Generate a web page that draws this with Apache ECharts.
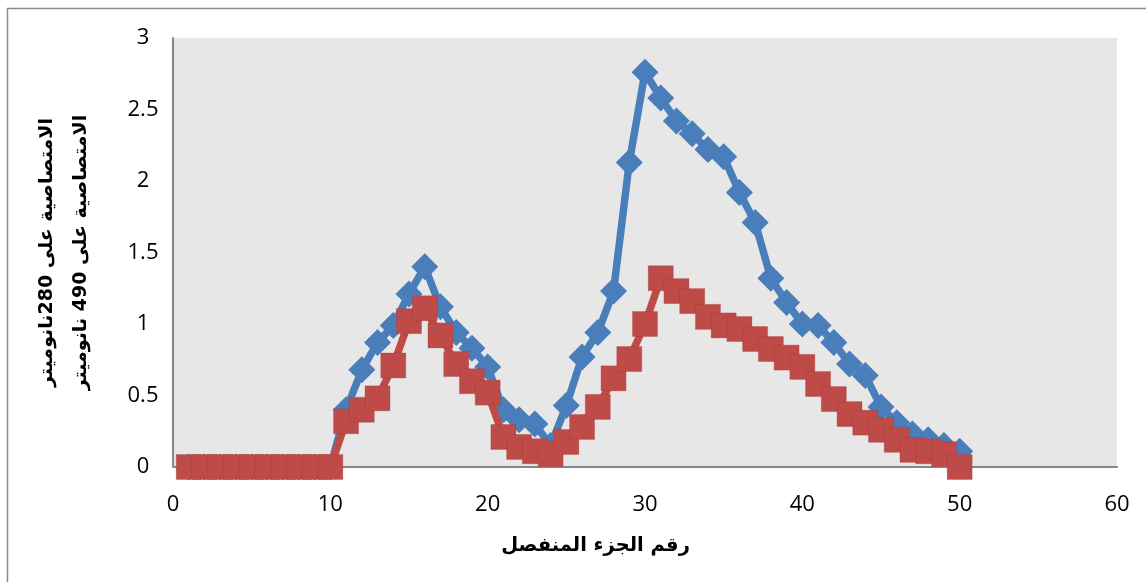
<!DOCTYPE html>
<html>
<head>
<meta charset="utf-8">
<script src="https://cdn.jsdelivr.net/npm/echarts@6/dist/echarts.min.js"></script>
<style>
html,body{margin:0;padding:0;background:#fff;}
#chart{width:1146px;height:582px;}
</style>
</head>
<body>
<div id="chart"></div>
<script>
// fraction numbers (x)
const fractions = [1,2,3,4,5,6,7,8,9,10,11,12,13,14,15,16,17,18,19,20,21,22,23,24,25,26,27,28,29,30,31,32,33,34,35,36,37,38,39,40,41,42,43,44,45,46,47,48,49,50];
// absorbance at 280 nm
const abs280 = [0,0,0,0,0,0,0,0,0,0,0.40,0.68,0.87,0.99,1.21,1.40,1.12,0.94,0.83,0.70,0.40,0.33,0.30,0.15,0.43,0.77,0.94,1.23,2.13,2.76,2.58,2.42,2.33,2.22,2.17,1.92,1.71,1.32,1.15,1.00,0.99,0.87,0.72,0.64,0.42,0.31,0.23,0.19,0.15,0.11];
// absorbance at 490 nm
const abs490 = [0,0,0,0,0,0,0,0,0,0,0.32,0.40,0.48,0.71,1.02,1.11,0.92,0.72,0.60,0.52,0.21,0.14,0.11,0.09,0.175,0.28,0.42,0.62,0.755,1.00,1.32,1.23,1.16,1.05,0.99,0.965,0.895,0.825,0.765,0.70,0.58,0.475,0.37,0.31,0.26,0.19,0.12,0.11,0.09,0.00];
const xTitle = 'رقم الجزء المنفصل';
const yTitle = ['الامتصاصية على 280نانوميتر', 'الامتصاصية على 490 نانوميتر'];

const chart = echarts.init(document.getElementById('chart'));
const labelFont = {color:'#000', fontSize:22, fontFamily:'Open Sans'};
chart.setOption({
  animation:false,
  backgroundColor:'#fff',
  graphic:[{
    type:'rect', z:-10, silent:true,
    shape:{x:7.5, y:8.5, width:1300, height:800},
    style:{fill:'#fff', stroke:'#8a8a8a', lineWidth:1.5}
  }],
  grid:{left:173, top:38, right:29, bottom:115, show:true, backgroundColor:'#e7e7e7', borderWidth:0},
  xAxis:{
    type:'value', min:0, max:60, interval:10,
    axisLine:{show:true, onZero:false, lineStyle:{color:'#878787', width:2}},
    axisTick:{show:false},
    splitLine:{show:false},
    axisLabel:Object.assign({margin:27}, labelFont),
    name:xTitle, nameLocation:'middle', nameGap:69,
    nameTextStyle:{fontSize:19.5, fontWeight:'bold', fontFamily:'DejaVu Sans', color:'#000', padding:[0,99,0,0]}
  },
  yAxis:{
    type:'value', min:0, max:3, interval:0.5,
    axisLine:{show:true, lineStyle:{color:'#878787', width:2}},
    axisTick:{show:false},
    splitLine:{show:false},
    axisLabel:Object.assign({margin:30, align:'center'}, labelFont),
    name:yTitle.join('\n'), nameLocation:'middle', nameGap:75, nameRotate:90,
    nameTextStyle:{fontSize:19, fontWeight:'bold', fontFamily:'DejaVu Sans', color:'#000', lineHeight:34}
  },
  series:[
    {
      type:'line', name:'280',
      data:fractions.map((x,i)=>[x, abs280[i]]),
      symbol:'diamond', symbolSize:27,
      lineStyle:{color:'#4a7ebb', width:7.5},
      itemStyle:{color:'#4a7ebb'},
      z:2
    },
    {
      type:'line', name:'490',
      data:fractions.map((x,i)=>[x, abs490[i]]),
      symbol:'rect', symbolSize:25,
      lineStyle:{color:'#be4b48', width:7.5},
      itemStyle:{color:'#be4b48', borderColor:'rgba(160,50,50,0.35)', borderWidth:0.8},
      z:3
    }
  ]
});
</script>
</body>
</html>
